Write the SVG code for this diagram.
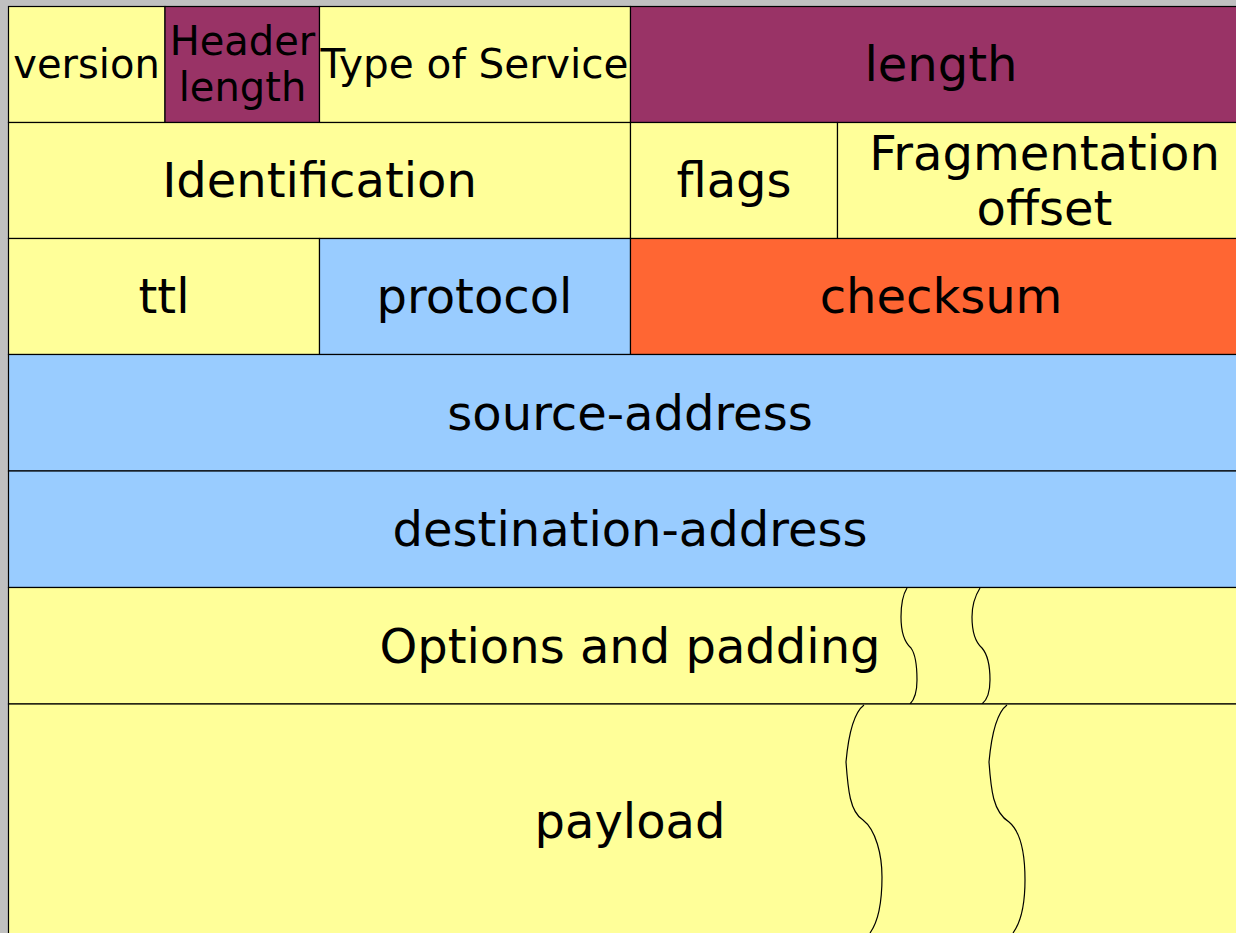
<svg xmlns="http://www.w3.org/2000/svg" width="1236" height="933" viewBox="0 0 1236 933">
<style>
.c{stroke:#000;stroke-width:1.2}
.y{fill:#FFFF99}
.p{fill:#993366}
.b{fill:#99CCFF}
.o{fill:#FF6633}
text{font-family:"DejaVu Sans","Liberation Sans",sans-serif;fill:#000;text-anchor:middle}
.L{font-size:48px}
.S{font-size:40px}
.w{fill:none;stroke:#000;stroke-width:1.2}
</style>
<rect x="0" y="0" width="1236" height="933" fill="#C0C0C0"/>
<g id="version"><rect class="c y" x="8.5" y="6.5" width="156.5" height="116"/><text class="S" x="86.5" y="78">version</text></g>
<g id="header-length"><rect class="c p" x="165" y="6.5" width="154.5" height="116"/><text class="S" x="242.5" y="55">Header</text><text class="S" x="242.5" y="101">length</text></g>
<g id="tos"><rect class="c y" x="319.5" y="6.5" width="311" height="116"/><text class="S" x="474.5" y="78" style="font-size:40.6px">Type of Service</text></g>
<g id="length"><rect class="c p" x="630.5" y="6.5" width="622" height="116"/><text class="L" x="941" y="81">length</text></g>
<g id="identification"><rect class="c y" x="8.5" y="122.5" width="622" height="116"/><text class="L" x="319.5" y="197">Identification</text></g>
<g id="flags"><rect class="c y" x="630.5" y="122.5" width="207" height="116"/><text class="L" x="734" y="197">flags</text></g>
<g id="fragmentation-offset"><rect class="c y" x="837.5" y="122.5" width="415" height="116"/><text class="L" x="1044.5" y="170">Fragmentation</text><text class="L" x="1044.5" y="225">offset</text></g>
<g id="ttl"><rect class="c y" x="8.5" y="238.5" width="311" height="116"/><text class="L" x="164" y="313">ttl</text></g>
<g id="protocol"><rect class="c b" x="319.5" y="238.5" width="311" height="116"/><text class="L" x="474.5" y="313">protocol</text></g>
<g id="checksum"><rect class="c o" x="630.5" y="238.5" width="622" height="116"/><text class="L" x="941" y="313">checksum</text></g>
<g id="source-address"><rect class="c b" x="8.5" y="354.5" width="1244" height="116.5"/><text class="L" x="630" y="430">source-address</text></g>
<g id="destination-address"><rect class="c b" x="8.5" y="471" width="1244" height="116.5"/><text class="L" x="630" y="546">destination-address</text></g>
<g id="options"><rect class="c y" x="8.5" y="587.5" width="1244" height="116.5"/><text class="L" x="630" y="663">Options and padding</text>
<path class="w" d="M907,588 C902,596 901,606 901,617 C901,630 903,641 911,648 C916,655 917,668 917,680 C917,692 914,700 910,704"/>
<path class="w" d="M980,588 C975,596 972,606 972,617 C972,630 974,641 982,648 C988,655 990,668 990,680 C990,692 987,700 982,704"/>
</g>
<g id="payload"><rect class="c y" x="8.5" y="704" width="1244" height="240"/><text class="L" x="630" y="838">payload</text>
<path class="w" d="M864,705 C852,714 848,740 846,762 C848,790 850,812 863,820 C876,830 882,855 882,877 C882,905 878,922 870,933"/>
<path class="w" d="M1007,705 C995,714 991,740 989,762 C991,790 993,812 1009,822 C1021,832 1025,855 1025,880 C1025,905 1021,922 1013,933"/>
</g>
<g id="connectors"></g>
</svg>
